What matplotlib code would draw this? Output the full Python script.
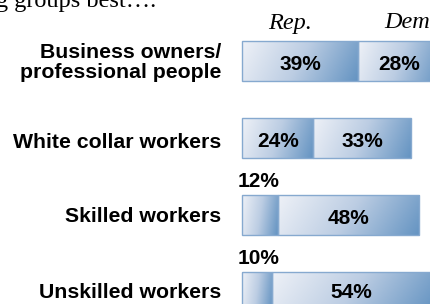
import numpy as np
import matplotlib.pyplot as plt
from matplotlib.colors import LinearSegmentedColormap

# data
groups = ["Business owners/\nprofessional people", "White collar workers",
          "Skilled workers", "Unskilled workers"]
rep = [39, 24, 12, 10]
dem = [28, 33, 48, 54]
headers = ["Rep.", "Dem"]
title_text = "g groups best\u2026."

# pixel helpers: figure is 430x304, x in %, y in rows
PX = 2.95          # pixels per percent
X0 = 242.5         # pixel where 0% sits
ROW0, ROWSTEP = 61, 77

fig = plt.figure(figsize=(4.3, 3.04), dpi=100)
ax = fig.add_axes([0, 0, 1, 1])
ax.axis("off")

cmap = LinearSegmentedColormap.from_list("bar", ["#eef1f7", "#bccde3", "#6594c2"])
yy, xx = np.mgrid[0:1:50j, 0:1:100j]
grad = np.clip(xx * 0.85 + yy * 0.15, 0, 1)

h = 40 / ROWSTEP
ypos = np.arange(len(groups))
for series, left in [(rep, [0] * 4), (dem, rep)]:
    bars = ax.barh(ypos, series, left=left, height=h, color="none",
                   edgecolor="#86a9cf", linewidth=1.0, zorder=3)
    for b in bars:
        x, y, w, hh = b.get_x(), b.get_y(), b.get_width(), b.get_height()
        im = ax.imshow(grad, cmap=cmap, aspect="auto", interpolation="bilinear",
                       extent=[x, x + w, y + hh, y], origin="upper", zorder=2)
        im.set_clip_path(b)

ax.set_xlim(-X0 / PX, (430 - X0) / PX)
ax.set_ylim((304 - ROW0) / ROWSTEP, -ROW0 / ROWSTEP)

lab_font = dict(family="Liberation Sans", weight="bold", fontsize=15.3)
num_font = dict(family="Liberation Sans", weight="bold", fontsize=15)
lab_offs = [0.02, 0.06, 0.02, 0.0]
num_offs = [0.04, 0.05, 0.04, 0.0]
for i, g in enumerate(groups):
    ax.text(-21 / PX, i + lab_offs[i], g, ha="right", va="center",
            linespacing=1.05, **lab_font)
    if rep[i] >= 20:
        ax.text(rep[i] / 2, i + num_offs[i], f"{rep[i]}%", ha="center",
                va="center", zorder=5, **num_font)
    else:
        ax.text(-1.5, i - h / 2 - 0.05, f"{rep[i]}%", ha="left",
                va="bottom", zorder=5, **num_font)
    ax.text(rep[i] + dem[i] / 2, i + num_offs[i], f"{dem[i]}%", ha="center",
            va="center", zorder=5, **num_font)

ax.text(16, -0.42, headers[0], ha="center", va="baseline", fontsize=17.5,
        family="Liberation Serif", style="italic")
ax.text(48, -0.43, headers[1], ha="left", va="baseline", fontsize=17.5,
        family="Liberation Serif", style="italic")
ax.text(-X0 / PX - 1.2, -0.70, title_text, ha="left", va="baseline",
        fontsize=17.5, family="Liberation Serif")

fig.savefig("out.png", dpi=100)
